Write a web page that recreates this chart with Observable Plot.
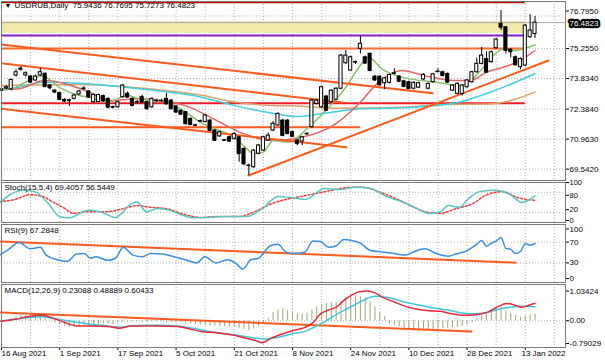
<!DOCTYPE html>
<html><head><meta charset="utf-8">
<script src="https://cdn.jsdelivr.net/npm/d3@7"></script>
<script src="https://cdn.jsdelivr.net/npm/@observablehq/plot@0.6"></script>
<style>
body{margin:0;background:#fff;}
#chart{position:relative;width:605px;height:363px;overflow:hidden;background:#fff;}
#chart svg{position:absolute;left:0;overflow:visible;}
</style></head><body><div id="chart"></div>
<script>
// ---------------- DATA ----------------
const symbol = "USDRUB,Daily";
const opens = [73.25,73.36,73.32,73.98,74.25,73.98,73.93,73.74,73.98,74.06,
 73.50,73.26,73.14,72.82,72.80,72.87,73.08,73.33,73.22,72.71,
 72.72,73.00,72.87,72.48,72.47,72.95,73.11,72.87,72.71,72.95,
 72.71,72.47,72.76,72.76,72.87,72.79,72.51,72.30,72.24,71.92,
 71.62,71.80,71.77,71.84,71.37,71.09,70.91,71.05,70.98,71.05,
 70.50,69.70,69.63,70.27,70.42,70.90,71.37,71.61,71.84,71.84,
 71.29,70.90,70.85,71.20,71.53,72.63,72.47,72.98,72.71,72.83,
 73.35,74.56,74.21,74.60,75.24,74.84,75.00,73.92,73.92,73.61,
 73.63,74.06,73.92,73.70,73.66,73.35,73.40,73.79,73.35,73.66,
 74.14,74.13,74.05,73.26,73.11,73.10,73.42,73.66,74.13,74.53,
 74.76,74.61,75.27,76.42,76.26,75.20,74.84,74.37,74.45,75.79,
 75.9436];
const highs = [73.40,73.48,73.80,74.25,74.40,74.15,73.98,74.00,74.32,74.10,
 73.55,73.30,73.18,72.88,72.85,73.08,73.27,73.45,73.26,73.10,
 73.10,73.05,72.92,72.53,72.75,73.55,73.20,72.92,72.80,73.04,
 72.76,72.92,72.85,72.85,73.14,72.84,72.56,72.36,72.28,71.97,
 71.67,71.87,72.13,71.90,71.42,71.34,70.95,71.10,71.26,71.10,
 70.55,69.78,70.47,70.71,71.10,71.25,71.80,72.20,71.90,71.88,
 71.34,70.95,71.10,71.28,72.84,72.84,73.47,73.03,73.30,73.40,
 74.97,75.16,74.89,74.66,75.82,74.90,75.05,73.98,73.97,73.89,
 74.05,74.30,73.97,73.75,73.71,73.68,73.66,74.06,73.63,74.08,
 74.30,74.18,74.10,73.55,73.63,73.55,73.79,74.18,74.80,75.30,
 75.10,75.13,75.73,77.05,76.30,75.25,74.90,74.81,76.40,76.85,
 76.7695];
const lows = [73.15,73.30,73.25,73.90,74.18,73.90,73.60,73.70,73.93,73.40,
 73.30,73.12,72.80,72.70,72.51,72.82,73.02,73.28,72.90,72.68,
 72.68,72.70,72.40,72.40,72.43,72.90,72.90,72.50,72.60,72.66,
 72.35,72.42,72.70,72.70,72.58,72.35,72.20,72.10,71.64,71.60,
 71.55,71.75,71.73,71.32,70.85,71.05,70.85,70.80,70.93,69.87,
 69.70,69.24,69.58,70.22,70.38,70.85,71.32,71.56,71.08,71.18,
 71.05,70.65,70.65,71.15,71.48,72.58,72.42,72.27,72.66,72.78,
 73.30,74.50,74.16,74.50,75.00,74.50,74.16,73.70,73.48,73.30,
 73.58,74.00,73.65,73.40,73.30,73.30,73.35,73.74,73.30,73.61,
 74.10,73.92,73.61,73.21,73.06,73.00,73.37,73.61,74.08,74.48,
 74.08,74.56,75.22,76.10,75.00,74.80,74.43,74.25,74.40,75.74,
 75.7273];
const closes = [73.32,73.42,73.77,74.13,74.30,74.08,73.66,73.93,74.13,73.45,
 73.39,73.19,72.84,72.76,72.78,73.03,73.22,73.36,72.95,73.06,
 73.05,72.78,72.47,72.47,72.71,73.50,72.95,72.55,72.72,72.71,
 72.40,72.87,72.78,72.78,72.63,72.40,72.24,72.14,71.69,71.65,
 71.60,71.82,72.08,71.37,70.90,71.29,70.90,70.86,71.21,70.27,
 69.79,69.71,70.42,70.66,71.05,71.13,71.69,72.16,71.13,71.22,
 71.09,70.75,71.05,71.21,72.79,72.79,73.42,72.32,73.26,73.35,
 74.92,74.92,74.84,74.61,75.48,74.56,74.21,73.76,73.53,73.84,
 74.00,74.08,73.70,73.45,73.35,73.63,73.61,74.01,73.58,74.03,
 74.16,73.97,73.66,73.50,73.58,73.50,73.74,74.13,74.53,74.92,
 74.13,75.08,75.68,76.26,75.16,75.10,74.48,74.76,76.34,76.11,
 76.4823];

// moving averages [bar, price]
const maFast = [[0,73.31],[2.3,73.35],[4,73.55],[8.4,73.95],[12,73.40],[16,73.03],[18,72.95],[22,72.71],[26,73.03],[28.4,72.87],[34,72.71],[38,72.24],[41,71.76],[45,71.37],[48,71.05],[50.6,70.50],[52,70.27],[54,70.34],[56,70.90],[59,70.82],[63.4,71.53],[67.5,72.48],[71,73.42],[73.7,74.37],[75.7,74.84],[78.4,74.29],[82.5,73.90],[89.7,73.66],[94.7,73.50],[96.7,73.74],[99.4,74.37],[101.4,74.92],[103.5,75.24],[105.6,75.16],[107.6,75.24],[110,75.43]];
const maMid = [[0,73.30],[3.7,73.35],[8.8,73.74],[18.1,73.19],[22.2,72.79],[28.4,72.87],[37.7,72.56],[44.4,71.84],[50,71.21],[56.2,70.90],[61.9,71.05],[68.9,71.69],[73.7,72.64],[77.8,73.66],[82.5,74.21],[87,73.98],[93.2,73.74],[96.7,73.74],[100,74.13],[103.5,74.37],[107,74.69],[110,75.16]];
const maSlow = [[0,73.33],[3.7,73.42],[8.4,73.66],[16.7,73.60],[28.4,73.35],[41.2,72.95],[47.9,72.56],[56.2,72.18],[61.3,72.03],[65,72.13],[73,72.38],[84,72.46],[94,72.70],[101.8,73.27],[110,74.06]];
const maLong = [[0,73.50],[16,73.55],[28,73.40],[41,73.05],[48,72.72],[56,72.56],[62,72.52],[69,72.42],[84,72.48],[90,72.60],[101,72.64],[110,73.19]];

// analyst objects
const zoneLow = 75.97, zoneHigh = 76.53;
const levelTop = 77.45, levelPurple = 75.87, levelUpper = 75.255, levelRed = 72.66, levelLower = 71.53;
const levelsFromBar = -1, levelsToBar = 108, lowerToBar = 74;
const trendLines = [
  [[-0.2,75.445],[88.9,73.133]],
  [[-0.2,74.559],[70.3,72.697]],
  [[-0.2,72.399],[71.1,70.580]]
];
const supportLine = [[50.9,69.239],[112.8,74.687]];

// price scale
const priceTicks = [76.7950, 75.2550, 73.8340, 72.3840, 70.9630, 69.5420];

// Stochastic (15,5,4)
const stochMain = [[-0.4,50],[4.4,86],[6.8,82],[10,41],[11.9,9],[13.9,5],[17.9,27],[20.3,23],[23.5,6],[26.7,45],[27.9,52],[29.9,23],[32.3,32],[34.7,27],[37,14],[39.5,5],[42.6,6],[45.8,9],[50.6,9],[53.8,32],[57,68],[60.2,64],[62.6,59],[66.6,91],[69.8,88],[73,95],[76.1,91],[79.3,68],[82.5,52],[85.7,32],[88.1,18],[90.5,23],[92.1,41],[94.5,36],[96.1,59],[98.5,82],[101.7,86],[104.9,73],[107.3,50],[110,69.4057]];
const stochSignal = [[-0.4,52],[2.8,59],[6,73],[8.4,68],[10.8,50],[13.1,32],[14.7,18],[17.9,23],[21.9,23],[25.1,32],[27.9,41],[30.7,36],[33.9,32],[37.9,14],[41.1,6],[44.2,9],[49,9],[52.2,23],[55.4,45],[58.6,59],[61.8,68],[65,77],[68.2,86],[71.4,94],[74.5,95],[77.7,82],[80.9,64],[84.1,43],[87.3,23],[90.5,18],[93.7,32],[96.9,45],[100.1,73],[103.3,82],[106.5,64],[110,56.5449]];
const stochLevels = [80, 20];

// RSI(9)
const rsi = [[-0.4,45],[1.2,54],[3.6,69],[6,57],[8,60],[9.2,45],[11.5,36],[13.5,33],[15.5,47],[17.1,48],[18.3,39],[19.5,42],[21.9,35],[23.5,39],[25.1,60],[27.1,45],[29.1,42],[30.7,48],[33.1,47],[35.5,42],[37.9,36],[40.3,30],[41.9,42],[44.2,30],[46.6,36],[48.2,30],[49.8,18],[51.4,36],[53,39],[55.4,63],[57,66],[58.6,51],[60.2,48],[62.6,51],[64.2,72],[65.8,71],[67.4,60],[69,63],[70.6,75],[72.2,73],[73.8,69],[76.1,54],[78.5,51],[80.9,48],[83.3,45],[84.9,51],[87.3,57],[89.7,48],[92.1,43],[93.7,47],[96.1,54],[98,66],[99,73],[100,62],[101,68],[102,72],[103,79],[104,58],[105,56],[106,48],[107,52],[108,67],[109,64],[110,67.2848]];
const rsiTrend = [[-0.2,71],[106,30.5]];
const rsiLevels = [70, 30];

// MACD(12,26,9)
const macdHist = [-0.02,0.03,0.08,0.14,0.19,0.19,0.18,0.16,0.14,0.09,
 0.03,-0.07,-0.14,-0.18,-0.23,-0.23,-0.21,-0.18,-0.16,-0.15,
 -0.13,-0.11,-0.12,-0.13,-0.07,-0.05,-0.05,-0.03,-0.03,-0.05,
 -0.05,-0.03,-0.03,-0.03,-0.05,-0.05,-0.06,-0.07,-0.09,-0.12,
 -0.13,-0.15,-0.16,-0.18,-0.18,-0.19,-0.20,-0.22,-0.23,-0.26,
 -0.30,-0.34,-0.29,-0.20,-0.11,0.08,0.28,0.37,0.43,0.35,
 0.28,0.24,0.23,0.26,0.37,0.47,0.56,0.60,0.62,0.64,
 0.68,0.81,0.89,0.87,0.83,0.79,0.66,0.47,0.29,0.14,
 -0.11,-0.16,-0.21,-0.26,-0.32,-0.35,-0.37,-0.36,-0.34,-0.34,
 -0.30,-0.28,-0.26,-0.24,-0.23,-0.20,-0.15,-0.05,0.08,0.16,
 0.24,0.35,0.45,0.47,0.33,0.24,0.18,0.12,0.16,0.20,
 0.23088];
const macdRed = [[-0.4,-0.02],[2.8,0.05],[6,0.16],[8.4,0.19],[10.8,0.08],[13.2,-0.07],[15.6,-0.18],[18.7,-0.18],[21.9,-0.20],[24.3,-0.26],[26.7,-0.18],[31.5,-0.18],[36.3,-0.20],[38.7,-0.28],[41.1,-0.37],[44.3,-0.42],[47.4,-0.49],[49.8,-0.58],[52.2,-0.68],[53.8,-0.76],[55.4,-0.62],[57,-0.51],[60.2,-0.34],[62.6,-0.23],[64.2,-0.07],[65.8,0.24],[67.4,0.37],[69,0.47],[70.6,0.71],[72.2,0.89],[73.8,1.01],[75.4,1.03],[77,0.97],[78.5,0.82],[80.9,0.66],[83.3,0.50],[85.7,0.40],[88.1,0.35],[90.5,0.33],[92.9,0.24],[95.3,0.19],[97.7,0.21],[100.1,0.29],[102.5,0.50],[104.1,0.60],[105.7,0.55],[107.3,0.47],[108.9,0.55],[110,0.60433]];
const macdCyan = [[-0.4,-0.02],[2.8,0.05],[6,0.12],[8.4,0.14],[10.8,0.08],[13.2,0.01],[15.6,-0.05],[18.7,-0.13],[21.9,-0.18],[24.3,-0.23],[26.7,-0.18],[29.9,-0.16],[33.1,-0.16],[36.3,-0.18],[39.5,-0.26],[42.7,-0.37],[45.9,-0.44],[49,-0.51],[52.2,-0.60],[54.6,-0.63],[57,-0.58],[60.2,-0.44],[62.6,-0.37],[65,-0.18],[67.4,0.05],[69.8,0.29],[72.2,0.50],[74.6,0.71],[77,0.85],[79.3,0.82],[82.5,0.68],[85.7,0.56],[88.9,0.45],[92.1,0.37],[95.3,0.26],[97.7,0.24],[100.1,0.29],[102.5,0.40],[104.9,0.47],[107.3,0.50],[110,0.48889]];
const macdTrend = [[-0.2,0.29],[96.9,-0.37]];
const macdTicks = [1.03424, 0, -0.79029];

// time axis
const dateLabels = ["16 Aug 2021","1 Sep 2021","17 Sep 2021","5 Oct 2021","21 Oct 2021","8 Nov 2021","24 Nov 2021","10 Dec 2021","28 Dec 2021","13 Jan 2022"];
const dateBars = [0,12,24,36,48,60,72,84,96,108];

// ---------------- DRAW ----------------
const n = closes.length;
const bars = closes.map((c, i) => ({i, o: opens[i], h: highs[i], l: lows[i], c}));
const last = bars[n - 1];
const gridBars = d3.range(0, 117, 6);
const xs = {domain: [-0.206, 116.29], range: [0, 565], axis: null, label: null};
const FONT = "'Liberation Sans', Arial, sans-serif";
const baseStyle = {fontFamily: FONT, fontSize: "8px", background: "transparent", overflow: "visible", color: "#000"};
const GRID = "#b4b4b4", FRAME = "#7a7a7a", ORANGE = "#ff5a1e";
const P = d => d[0], V = d => d[1];
const chart = document.getElementById("chart");
function place(svg, top) { svg.style.top = top + "px"; chart.append(svg); }
const rightAxis = (ticks, extra = {}) => Plot.axisY(ticks, {anchor: "right", tickSize: 3, tickPadding: 1, fontSize: 8, ...extra});

const title = `${symbol}  ${last.o.toFixed(4)} ${last.h.toFixed(4)} ${last.l.toFixed(4)} ${last.c.toFixed(4)}`;
const upperPriceTicks = priceTicks.filter(t => t > last.c);
const otherPriceTicks = priceTicks.filter(t => t <= last.c);

const main = Plot.plot({
  width: 605, height: 181, marginTop: 1, marginBottom: 1, marginLeft: 1, marginRight: 40,
  style: baseStyle, x: xs,
  y: {domain: [69.002, 77.529], range: [180, 0], axis: null},
  marks: [
    Plot.ruleX(gridBars, {stroke: GRID, strokeDasharray: "1,2"}),
    Plot.ruleY(priceTicks, {stroke: GRID, strokeDasharray: "1,2"}),
    Plot.rect([[zoneLow, zoneHigh]], {x1: levelsFromBar, x2: levelsToBar, y1: d => d[0], y2: d => d[1], fill: "#f3e9a8", clip: true}),
    Plot.ruleY([last.c], {stroke: "#a8a8a8"}),
    Plot.ruleY([levelTop], {x1: levelsFromBar, x2: levelsToBar, stroke: "#c00000", strokeWidth: 2, clip: true}),
    Plot.ruleY([levelPurple], {x1: levelsFromBar, x2: levelsToBar, stroke: "#8a1ccc", strokeWidth: 2, clip: true}),
    Plot.ruleY([levelUpper], {x1: levelsFromBar, x2: levelsToBar, stroke: "#ff6a28", strokeWidth: 2, clip: true}),
    Plot.ruleY([levelRed], {x1: levelsFromBar, x2: levelsToBar, stroke: "#ee1c24", strokeWidth: 2, clip: true}),
    Plot.ruleY([levelLower], {x1: levelsFromBar, x2: lowerToBar, stroke: ORANGE, strokeWidth: 2, clip: true}),
    Plot.line(maLong, {x: P, y: V, stroke: "#d9a46c", curve: "monotone-x", clip: true}),
    Plot.line(maSlow, {x: P, y: V, stroke: "#3fd0e2", curve: "monotone-x", clip: true}),
    Plot.line(maMid, {x: P, y: V, stroke: "#e36464", curve: "monotone-x", clip: true}),
    Plot.line(maFast, {x: P, y: V, stroke: "#8cbf6a", curve: "monotone-x", clip: true}),
    ...trendLines.map(t => Plot.line(t, {x: P, y: V, stroke: ORANGE, strokeWidth: 2, clip: true})),
    Plot.line(supportLine, {x: P, y: V, stroke: ORANGE, strokeWidth: 2, clip: true}),
    Plot.ruleX(bars, {x: "i", y1: "l", y2: "h", stroke: "#000", strokeWidth: 1}),
    Plot.ruleY(bars, {x1: d => d.i - 0.32, x2: d => d.i + 0.32, y: "c", stroke: "#000"}),
    Plot.rect(bars, {x1: d => d.i - 0.32, x2: d => d.i + 0.32, y1: "o", y2: "c", fill: d => d.c >= d.o ? "#fff" : "#000", stroke: "#000", strokeWidth: 1}),
    rightAxis(otherPriceTicks, {tickFormat: d => d.toFixed(4)}),
    rightAxis(upperPriceTicks, {tickFormat: d => d.toFixed(4), dy: -5}),
    Plot.text([last.c], {y: d => d, frameAnchor: "right", textAnchor: "start", dx: 4, dy: 1, text: d => d.toFixed(4), fill: "#fff", stroke: "#000", strokeWidth: 4.5, strokeLinejoin: "round", paintOrder: "stroke", fontSize: 8}),
    Plot.text(["▼"], {frameAnchor: "top-left", dx: 3, dy: 2, fontSize: 7}),
    Plot.text([title], {frameAnchor: "top-left", dx: 13, dy: 1, fontSize: 8}),
    Plot.frame({stroke: FRAME})
  ]
});
place(main, 0);

const stochLabel = `Stoch(15,5,4) ${stochMain[stochMain.length-1][1].toFixed(4)} ${stochSignal[stochSignal.length-1][1].toFixed(4)}`;
const stoch = Plot.plot({
  width: 605, height: 42, marginTop: 1, marginBottom: 1, marginLeft: 1, marginRight: 40,
  style: baseStyle, x: xs,
  y: {domain: [0, 100], range: [38, 4], axis: null},
  marks: [
    Plot.ruleX(gridBars, {stroke: GRID, strokeDasharray: "1,2"}),
    Plot.ruleY(stochLevels, {stroke: GRID, strokeDasharray: "1,2"}),
    Plot.line(stochSignal, {x: P, y: V, stroke: "#f03c3c", strokeDasharray: "2,2", curve: "monotone-x"}),
    Plot.line(stochMain, {x: P, y: V, stroke: "#58c6c0", curve: "monotone-x"}),
    rightAxis([100], {fontSize: 7.5, dy: -3}),
    rightAxis([80], {fontSize: 7.5, dy: 3}),
    rightAxis([20], {fontSize: 7.5, dy: -3}),
    rightAxis([0], {fontSize: 7.5, dy: 1}),
    Plot.text([stochLabel], {frameAnchor: "top-left", dx: 3, dy: 2, fontSize: 8}),
    Plot.frame({stroke: FRAME})
  ]
});
place(stoch, 181);

const rsiLabel = `RSI(9) ${rsi[rsi.length-1][1].toFixed(4)}`;
const rsiPlot = Plot.plot({
  width: 605, height: 60, marginTop: 1, marginBottom: 1, marginLeft: 1, marginRight: 40,
  style: baseStyle, x: xs,
  y: {domain: [0, 100], range: [55, 3], axis: null},
  marks: [
    Plot.ruleX(gridBars, {stroke: GRID, strokeDasharray: "1,2"}),
    Plot.ruleY(rsiLevels, {stroke: GRID, strokeDasharray: "1,2"}),
    Plot.line(rsiTrend, {x: P, y: V, stroke: ORANGE, strokeWidth: 2}),
    Plot.line(rsi, {x: P, y: V, stroke: "#3d8fe3", curve: "monotone-x"}),
    rightAxis([100], {dy: 2.5}),
    rightAxis([70, 30, 0]),
    Plot.text([rsiLabel], {frameAnchor: "top-left", dx: 3, dy: 3, fontSize: 8}),
    Plot.frame({stroke: FRAME})
  ]
});
place(rsiPlot, 223);

const macdLabel = `MACD(12,26,9) ${macdHist[n-1].toFixed(5)} ${macdCyan[macdCyan.length-1][1].toFixed(5)} ${macdRed[macdRed.length-1][1].toFixed(5)}`;
const dateItems = dateLabels.map((label, k) => ({label, bar: dateBars[k]}));
const macd = Plot.plot({
  width: 605, height: 80, marginTop: 1, marginBottom: 16, marginLeft: 1, marginRight: 40,
  style: baseStyle, x: xs,
  y: {domain: [-0.79029, 1.03424], range: [60, 7.5], axis: null},
  marks: [
    Plot.ruleX(gridBars, {stroke: GRID, strokeDasharray: "1,2"}),
    Plot.ruleY([0], {stroke: GRID, strokeDasharray: "1,2"}),
    Plot.ruleX(macdHist, {x: (d, i) => i, y1: 0, y2: d => d, stroke: "#a3a374"}),
    Plot.line(macdTrend, {x: P, y: V, stroke: ORANGE, strokeWidth: 2}),
    Plot.line(macdCyan, {x: P, y: V, stroke: "#38c8dc", curve: "monotone-x"}),
    Plot.line(macdRed, {x: P, y: V, stroke: "#e8283c", curve: "monotone-x"}),
    rightAxis(macdTicks, {tickFormat: d => d === 0 ? "0.00" : String(d)}),
    Plot.axisX(dateBars, {anchor: "bottom", tickSize: 3, tickFormat: () => "", label: null}),
    Plot.text(dateItems.slice(0, -1), {x: "bar", text: "label", frameAnchor: "bottom", lineAnchor: "top", textAnchor: "start", dy: 3, fontSize: 8}),
    Plot.text(dateItems.slice(-1), {text: "label", frameAnchor: "bottom-right", lineAnchor: "top", textAnchor: "end", dy: 3, fontSize: 8}),
    Plot.text([macdLabel], {frameAnchor: "top-left", dx: 3, dy: 3, fontSize: 8}),
    Plot.frame({stroke: FRAME})
  ]
});
place(macd, 283);
</script></body></html>
